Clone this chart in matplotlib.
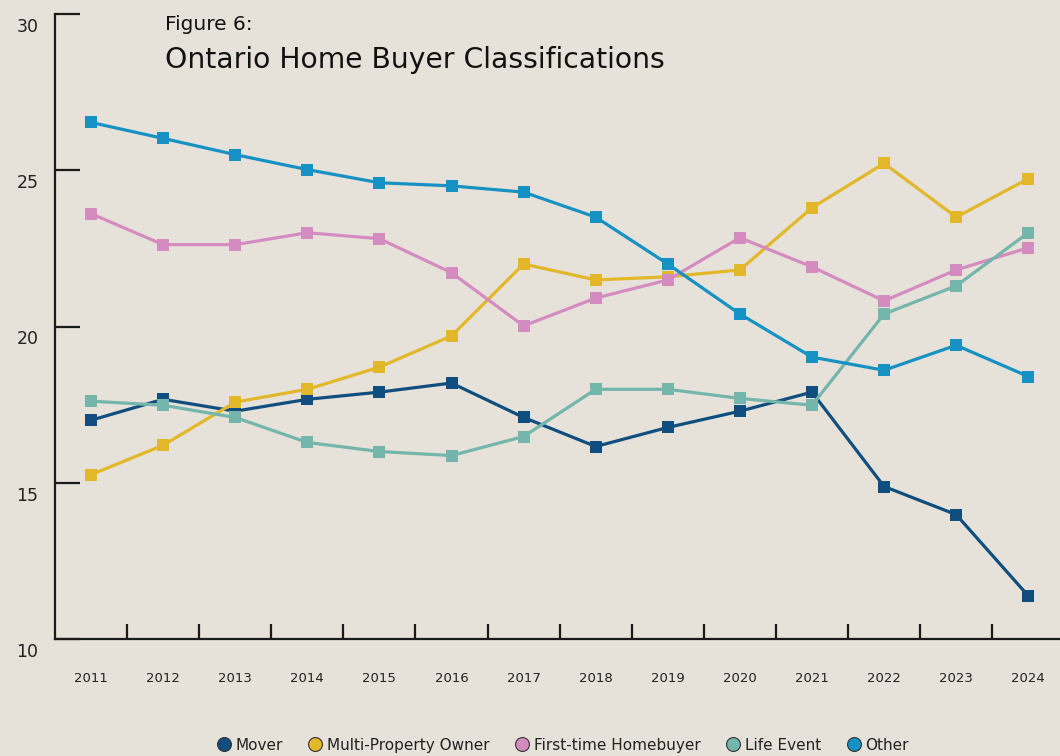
import matplotlib
matplotlib.use("Agg")
import matplotlib.pyplot as plt
from matplotlib.transforms import ScaledTranslation
from matplotlib.lines import Line2D

years = list(range(2011, 2025))
mover = [17.0, 17.67, 17.29, 17.67, 17.9, 18.19, 17.09, 16.16, 16.77, 17.29, 17.9, 14.88, 13.98, 11.38]
multi_property = [15.26, 16.2, 17.58, 17.99, 18.7, 19.7, 22.0, 21.49, 21.59, 21.81, 23.8, 25.22, 23.5, 24.73]
first_time = [23.61, 22.62, 22.62, 23.0, 22.81, 21.72, 20.02, 20.91, 21.49, 22.84, 21.91, 20.82, 21.81, 22.52]
life_event = [17.61, 17.48, 17.09, 16.29, 16.0, 15.87, 16.48, 17.99, 17.99, 17.7, 17.48, 20.4, 21.3, 23.0]
other = [26.53, 26.02, 25.5, 25.02, 24.6, 24.5, 24.3, 23.5, 22.0, 20.4, 19.02, 18.6, 19.4, 18.4]

series_names = ["Mover", "Multi-Property Owner", "First-time Homebuyer", "Life Event", "Other"]
series_values = [mover, multi_property, first_time, life_event, other]
colors = ["#0F4E7E", "#E2B82A", "#D48CC0", "#74B5AC", "#1592C3"]
y_ticks = [10, 15, 20, 25, 30]

bg = "#E6E1D9"
FONT = "DejaVu Sans"

fig = plt.figure(figsize=(10.6, 7.56), dpi=100, facecolor=bg)
ax = fig.add_axes([55/1060, 1 - 639/756, 1 - 55/1060, (639 - 14)/756])
ax.set_facecolor(bg)

for name, vals, c in zip(series_names, series_values, colors):
    ax.plot(years, vals, color=c, lw=2.3, marker="s", ms=8.5, markeredgewidth=0,
            solid_joinstyle="round", zorder=3)

ax.set_xlim(2010.5, 2024.44)
ax.set_ylim(10, 30)

for s in ["top", "right"]:
    ax.spines[s].set_visible(False)
for s in ["left", "bottom"]:
    ax.spines[s].set_linewidth(1.6)
    ax.spines[s].set_color("#1a1a1a")

ax.set_yticks(y_ticks)
ax.set_yticklabels([str(v) for v in y_ticks], fontsize=12.5, family=FONT, color="#222222")
ax.tick_params(axis="y", direction="in", length=18, width=1.6, color="#1a1a1a", pad=12)
off = ScaledTranslation(0, -11/100, fig.dpi_scale_trans)
for lab in ax.get_yticklabels():
    lab.set_transform(lab.get_transform() + off)

ax.set_xticks(years)
ax.set_xticklabels([str(y) for y in years], fontsize=9.5, family=FONT, color="#222222")
ax.tick_params(axis="x", which="major", length=0, pad=24)
ax.set_xticks([y + 0.5 for y in years[:-1]], minor=True)
ax.tick_params(axis="x", which="minor", direction="in", length=11, width=1.6, color="#1a1a1a")

fig.text(165/1060, 1 - 24/756, "Figure 6:", fontsize=14.5, family=FONT,
         va="center", ha="left", color="#111111")
fig.text(165/1060, 1 - 60/756, "Ontario Home Buyer Classifications", fontsize=20.3, family=FONT,
         va="center", ha="left", color="#111111")

handles = [Line2D([], [], marker="o", ls="none", ms=10, markerfacecolor=c,
                  markeredgecolor="#333333", markeredgewidth=0.8) for c in colors]
leg = ax.legend(handles, series_names, loc="center", bbox_to_anchor=(0.505, -0.17), ncol=5,
                frameon=False, prop={"family": FONT, "size": 11}, handletextpad=0.25,
                columnspacing=1.65, handlelength=1.0)
for t in leg.get_texts():
    t.set_color("#222222")

fig.savefig("out.png", dpi=100, facecolor=bg)
